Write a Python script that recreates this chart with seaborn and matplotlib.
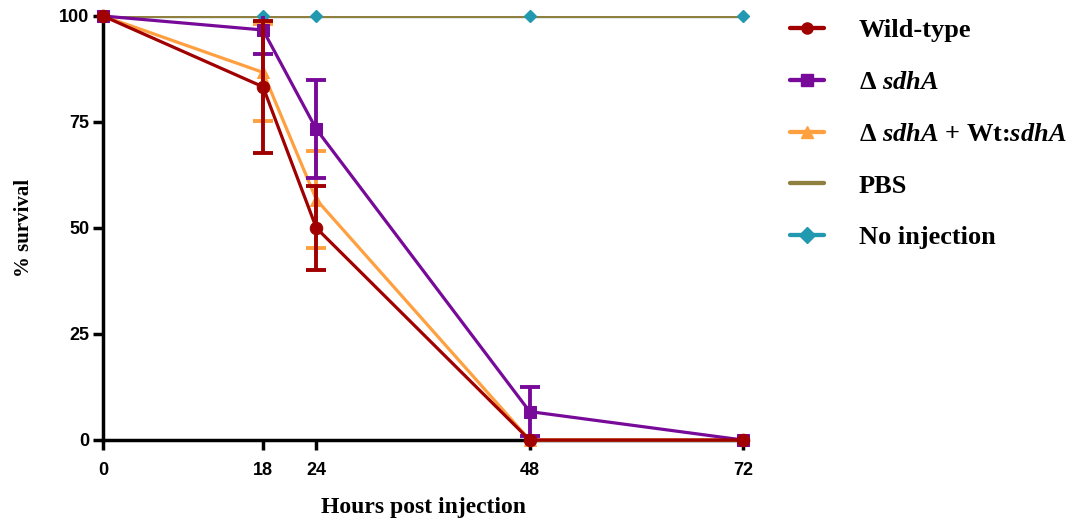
import matplotlib
matplotlib.use("Agg")
import matplotlib.pyplot as plt
import seaborn as sns
import numpy as np
from matplotlib.lines import Line2D

hours = [0, 18, 24, 48, 72]
wt = [100, 83.3, 50.0, 0, 0]
wt_err = [0, 15.6, 10.0, 0, 0]
dsdha = [100, 96.7, 73.3, 6.7, 0]
dsdha_err = [0, 5.6, 11.6, 5.8, 0]
comp = [100, 86.7, 56.7, 0, 0]
comp_err = [0, 11.5, 11.5, 0, 0]
pbs = [100, 100, 100, 100, 100]
noinj = [100, 100, 100, 100, 100]

labels = ["Wild-type", r"Δ $\mathit{sdhA}$",
          r"Δ $\mathit{sdhA}$ + Wt:$\mathit{sdhA}$", "PBS", "No injection"]
colors = ["#A00000", "#780A9A", "#FFA040", "#8F8040", "#2199B0"]
markers = ["o", "s", "^", None, "D"]

sns.set_style("ticks")
plt.rcParams.update({
    "mathtext.fontset": "custom",
    "mathtext.rm": "Liberation Serif:bold",
    "mathtext.it": "Liberation Serif:bold:italic",
    "mathtext.bf": "Liberation Serif:bold",
    "text.color": "black", "axes.labelcolor": "black",
    "xtick.color": "black", "ytick.color": "black", "axes.edgecolor": "black",
})
fig = plt.figure(figsize=(10.74, 5.24), dpi=100)
ax = fig.add_axes([103/1074, 1-440/524, 640/1074, 424/524])

lw = 2.3
sns.lineplot(x=hours, y=noinj, ax=ax, color=colors[4], lw=lw, zorder=2)
sns.lineplot(x=hours, y=pbs, ax=ax, color=colors[3], lw=lw, zorder=3)
ax.plot(hours, noinj, ls="none", marker="D", color=colors[4], ms=6, zorder=4, clip_on=False)

series = [(comp, comp_err, colors[2], "^", 5), (dsdha, dsdha_err, colors[1], "s", 6), (wt, wt_err, colors[0], "o", 7)]
for vals, err, c, m, z in series:
    sns.lineplot(x=hours, y=vals, ax=ax, color=c, lw=lw, marker=m, markersize=9,
                 markeredgecolor=c, zorder=z, clip_on=False)
    idx = [i for i, e in enumerate(err) if e > 0]
    ax.errorbar([hours[i] for i in idx], [vals[i] for i in idx], yerr=[err[i] for i in idx],
                fmt="none", ecolor=c, elinewidth=lw+0.5, capsize=7, capthick=lw+0.5, zorder=z)

ax.set_xlim(0, 72)
ax.set_ylim(0, 100)
ax.set_xticks(hours)
ax.set_xticklabels([str(h) for h in hours])
ax.set_yticks([0, 25, 50, 75, 100])
ax.set_yticklabels(["0", "25", "50", "75", "100"])
for lab in ax.get_xticklabels() + ax.get_yticklabels():
    lab.set_fontfamily("Liberation Sans")
    lab.set_fontweight("bold")
    lab.set_fontsize(13)
ax.tick_params(axis="both", width=2.5, length=7, direction="out")
ax.tick_params(axis="x", pad=9)
ax.tick_params(axis="y", pad=3)
for s in ["top", "right"]:
    ax.spines[s].set_visible(False)
for s in ["left", "bottom"]:
    ax.spines[s].set_linewidth(2.5)
    ax.spines[s].set_zorder(1)

ax.set_xlabel("Hours post injection", fontfamily="Liberation Serif", fontweight="bold",
              fontsize=17, labelpad=13)
ax.set_ylabel("% survival", fontfamily="Liberation Serif", fontweight="bold",
              fontsize=15, labelpad=18)

handles = []
for c, m in zip(colors, markers):
    handles.append(Line2D([0], [0], color=c, lw=lw+0.8, marker=m, ms=8, markeredgecolor=c))
leg = fig.legend(handles, labels, loc="upper left", bbox_to_anchor=(790/1074, 1-19/524), frameon=False,
                 prop={"family": "Liberation Serif", "weight": "bold", "size": 19},
                 handlelength=1.3, handletextpad=1.3, labelspacing=1.07, borderaxespad=0, borderpad=0)

fig.savefig("out.png", dpi=100)
